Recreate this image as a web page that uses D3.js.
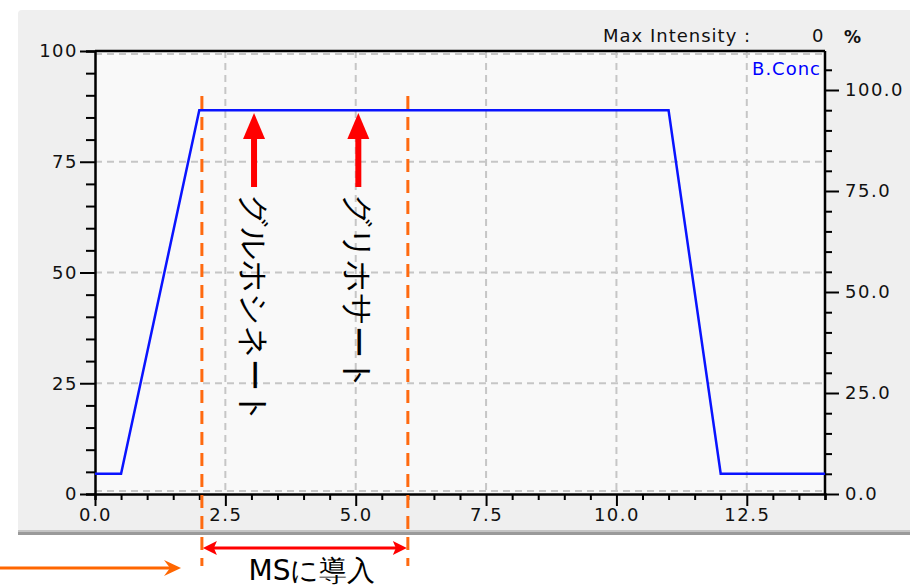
<!DOCTYPE html>
<html lang="ja">
<head>
  <meta charset="utf-8">
  <title>B.Conc gradient</title>
  <style>
    body { margin: 0; background: #fff; }
    svg text { font-family: "DejaVu Sans", sans-serif; }
  </style>
</head>
<body>
  <script src="https://cdn.jsdelivr.net/npm/d3@7/dist/d3.min.js"></script>
  <script>
    // gradient program (time min, %B)
    var timeVals = [0, 0.5, 2.0, 11.0, 12.0, 14.0];
    var concVals = [5, 5, 95, 95, 5, 5];
    var xTicks = [0, 2.5, 5, 7.5, 10, 12.5];
    var leftTicks = [0, 25, 50, 75, 100];
    var rightTicks = [0, 25, 50, 75, 100];
    var msWindow = [2.05, 6.0];
    var arrowTimes = [3.05, 5.05];
    var compoundNames = ["グルホシネート", "グリホサート"];

    var w = 910, h = 588;
    // plot box (don't use "top"/"left" as globals, window owns them)
    var pL = 95, pR = 825, pT = 51, pB = 494;

    var svg = d3.select("body").append("svg")
      .attr("width", w)
      .attr("height", h);

    var x = d3.scaleLinear().domain([0, 14]).range([pL, pR]);
    var yL = d3.scaleLinear().domain([0, 100]).range([pB, pT]);
    var yR = d3.scaleLinear().domain([0, 100]).range([pB, 90]);

    // outer panel
    svg.append("rect").attr("x", 18).attr("y", 10).attr("width", 900).attr("height", 522)
      .attr("rx", 4).attr("fill", "#efefef");
    svg.append("rect").attr("x", 18).attr("y", 530).attr("width", 900).attr("height", 5)
      .attr("fill", "#9a9a9a");
    svg.append("rect").attr("x", 18).attr("y", 530).attr("width", 900).attr("height", 2)
      .attr("fill", "#c4c4c4");

    // plot area
    svg.append("rect").attr("x", pL).attr("y", pT)
      .attr("width", pR - pL).attr("height", pB - pT)
      .attr("fill", "#f9f9f9");

    // grid
    var grid = svg.append("g").attr("stroke", "#c6c6c6").attr("stroke-width", 2)
      .attr("stroke-dasharray", "7,5");
    grid.selectAll(".gx").data(xTicks.slice(1)).enter().append("line")
      .attr("x1", function(d) { return x(d); }).attr("x2", function(d) { return x(d); })
      .attr("y1", pT).attr("y2", pB);
    grid.selectAll(".gy").data(leftTicks).enter().append("line")
      .attr("x1", pL).attr("x2", pR)
      .attr("y1", function(d) { return yL(d) + (d === 100 ? 3 : d === 0 ? -3 : 0); })
      .attr("y2", function(d) { return yL(d) + (d === 100 ? 3 : d === 0 ? -3 : 0); });

    // axes
    var fmt1 = d3.format(".1f");
    var axB = svg.append("g").attr("transform", "translate(0," + pB + ")")
      .call(d3.axisBottom(x).tickValues(d3.range(0, 14.01, 0.5)).tickSize(6).tickFormat(""));
    axB.selectAll(".tick line").attr("stroke-width", 2)
      .filter(function(d) { return xTicks.indexOf(d) >= 0; }).attr("y2", 12);
    svg.append("g").attr("transform", "translate(0," + pB + ")")
      .call(d3.axisBottom(x).tickValues(xTicks).tickSize(0).tickPadding(14).tickFormat(fmt1))
      .call(function(g) { g.select(".domain").remove(); });

    var axL = svg.append("g").attr("transform", "translate(" + pL + ",0)")
      .call(d3.axisLeft(yL).tickValues(d3.range(0, 100.1, 5)).tickSize(9).tickFormat(""));
    axL.selectAll(".tick line").attr("stroke-width", 2)
      .filter(function(d) { return leftTicks.indexOf(d) >= 0; }).attr("x2", -15);
    svg.append("g").attr("transform", "translate(" + pL + ",0)")
      .call(d3.axisLeft(yL).tickValues(leftTicks).tickSize(0).tickPadding(17).tickFormat(d3.format("d")))
      .call(function(g) { g.select(".domain").remove(); });

    var axR = svg.append("g").attr("transform", "translate(" + pR + ",0)")
      .call(d3.axisRight(yR).tickValues(d3.range(0, 105.1, 5)).tickSize(7).tickFormat(""));
    axR.selectAll(".tick line").attr("stroke-width", 2)
      .filter(function(d) { return rightTicks.indexOf(d) >= 0; }).attr("x2", 14);
    axR.select(".domain").attr("d", "M0," + pT + "V" + pB);
    svg.append("g").attr("transform", "translate(" + pR + ",0)")
      .call(d3.axisRight(yR).tickValues(rightTicks).tickSize(0).tickPadding(20).tickFormat(fmt1))
      .call(function(g) { g.select(".domain").remove(); });

    svg.selectAll(".domain").attr("stroke", "#000").attr("stroke-width", 2.5);
    svg.selectAll(".tick text").attr("font-size", 18).attr("fill", "#111")
      .attr("letter-spacing", 1.5);

    // top frame line
    svg.append("line").attr("x1", pL).attr("x2", pR).attr("y1", pT).attr("y2", pT)
      .attr("stroke", "#000").attr("stroke-width", 2.5);

    // gradient line
    var pts = timeVals.map(function(t, i) { return [t, concVals[i]]; });
    svg.append("path").datum(pts)
      .attr("fill", "none").attr("stroke", "#0a14ff").attr("stroke-width", 2.5)
      .attr("d", d3.line().x(function(d) { return x(d[0]); }).y(function(d) { return yR(d[1]); }));

    // header texts
    svg.append("text").attr("x", 603).attr("y", 42).attr("font-size", 18)
      .attr("letter-spacing", 1).attr("fill", "#111").text("Max Intensity :");
    svg.append("text").attr("x", 812).attr("y", 42).attr("font-size", 18)
      .attr("fill", "#111").text("0");
    svg.append("text").attr("x", 844).attr("y", 43).attr("font-size", 17)
      .attr("font-weight", "bold").attr("fill", "#111").text("%");
    svg.append("text").attr("x", 821).attr("y", 75).attr("text-anchor", "end")
      .attr("font-size", 18).attr("letter-spacing", 1).attr("fill", "#0000ff").text("B.Conc");

    // MS window dashed lines
    svg.selectAll(".ms").data(msWindow).enter().append("line")
      .attr("x1", function(d) { return x(d); }).attr("x2", function(d) { return x(d); })
      .attr("y1", 96).attr("y2", 566)
      .attr("stroke", "#ff6a10").attr("stroke-width", 3).attr("stroke-dasharray", "13,8");

    // red arrows toward the line
    var ah = svg.append("g").attr("fill", "#ff0000");
    arrowTimes.forEach(function(t, i) {
      var cx = x(t);
      ah.append("rect").attr("x", cx - 3).attr("y", 137).attr("width", 6).attr("height", 50);
      ah.append("path").attr("d", "M" + cx + ",113L" + (cx - 11) + ",139L" + (cx + 11) + ",139Z");
      svg.append("text")
        .attr("transform", "translate(" + (cx - 11) + ",194) rotate(90)")
        .attr("font-family", "'Noto Sans CJK JP', sans-serif")
        .attr("font-size", 32).attr("fill", "#000")
        .text(compoundNames[i]);
    });

    // MS double arrow
    var ya = 548, xa = x(msWindow[0]), xb = x(msWindow[1]);
    svg.append("line").attr("x1", xa + 10).attr("x2", xb - 10).attr("y1", ya).attr("y2", ya)
      .attr("stroke", "#ff0000").attr("stroke-width", 3);
    svg.append("path").attr("fill", "#ff0000")
      .attr("d", "M" + (xa + 1) + "," + ya + "L" + (xa + 15) + "," + (ya - 7) + "L" + (xa + 12) + "," + ya +
        "L" + (xa + 15) + "," + (ya + 7) + "Z");
    svg.append("path").attr("fill", "#ff0000")
      .attr("d", "M" + (xb - 1) + "," + ya + "L" + (xb - 15) + "," + (ya - 7) + "L" + (xb - 12) + "," + ya +
        "L" + (xb - 15) + "," + (ya + 7) + "Z");
    svg.append("text").attr("x", 312).attr("y", 580).attr("text-anchor", "middle")
      .attr("font-family", "'Noto Sans CJK JP', sans-serif").attr("font-size", 28)
      .attr("fill", "#000").text("MSに導入");

    // orange arrow from the left
    svg.append("line").attr("x1", 0).attr("x2", 172).attr("y1", 568).attr("y2", 568)
      .attr("stroke", "#ff6600").attr("stroke-width", 3);
    svg.append("path").attr("fill", "#ff6600")
      .attr("d", "M181,568L164,560L170,568L164,576Z");
  </script>
</body>
</html>
